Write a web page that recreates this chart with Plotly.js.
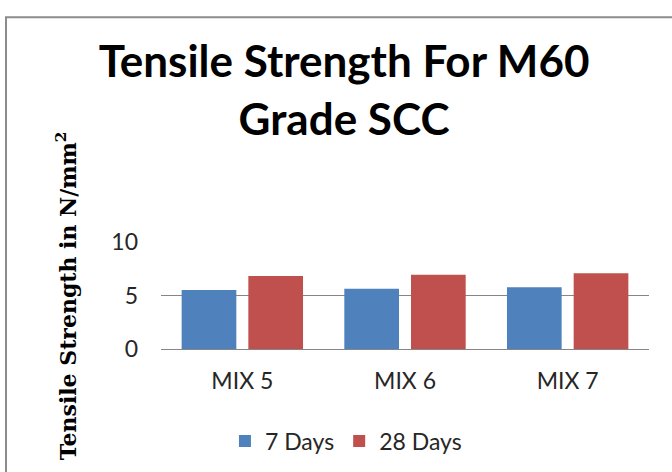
<!DOCTYPE html>
<html>
<head>
<meta charset="utf-8">
<script src="https://cdn.plot.ly/plotly-3.0.1.min.js"></script>
<style>
  html, body { margin: 0; padding: 0; background: #fff; }
  #chart { width: 672px; height: 472px; }
</style>
</head>
<body>
<div id="chart"></div>
<script>
var mixes = ['MIX 5', 'MIX 6', 'MIX 7'];
var days7 = [5.52, 5.63, 5.76];
var days28 = [6.82, 6.93, 7.07];
var yTicks = [0, 5, 10];

var trace1 = {
    x: mixes,
    y: days7,
    type: 'bar',
    name: '7 Days',
    marker: { color: '#4F81BD' },
    hoverinfo: 'y'
};

var trace2 = {
    x: mixes,
    y: days28,
    type: 'bar',
    name: '28 Days',
    marker: { color: '#C0504D' },
    hoverinfo: 'y'
};

var data = [trace1, trace2];

var layout = {
    width: 672,
    height: 472,
    margin: { l: 161, r: 23, t: 242, b: 122 },
    paper_bgcolor: '#ffffff',
    plot_bgcolor: '#ffffff',
    barmode: 'group',
    bargap: 0.18,
    bargroupgap: 0.18,
    title: {
        text: '<b>Tensile Strength For M60<br>Grade SCC</b>',
        font: { family: 'Lato, sans-serif', size: 44, color: '#000000' },
        x: 0.512,
        xanchor: 'center',
        y: 0.836,
        yanchor: 'top'
    },
    xaxis: {
        type: 'category',
        showgrid: false,
        zeroline: false,
        showline: false,
        ticks: '',
        ticklabelstandoff: 16,
        tickfont: { family: 'Lato, sans-serif', size: 23, color: '#262626' }
    },
    yaxis: {
        range: [0, 10],
        tickvals: yTicks,
        showgrid: true,
        gridcolor: '#868686',
        gridwidth: 1,
        zeroline: true,
        zerolinecolor: '#868686',
        zerolinewidth: 1,
        showline: false,
        ticks: '',
        ticklabelstandoff: 22,
        tickfont: { family: 'Lato, sans-serif', size: 23, color: '#262626' }
    },
    showlegend: true,
    legend: {
        orientation: 'h',
        x: 0.379,
        xanchor: 'center',
        y: -0.843,
        yanchor: 'middle',
        font: { family: 'Lato, sans-serif', size: 23, color: '#262626' },
        itemwidth: 30
    },
    annotations: [{
        text: '<b>Tensile Strength in N/mm<sup>2</sup></b>',
        xref: 'paper',
        yref: 'paper',
        x: -0.195,
        y: 0.5,
        xanchor: 'center',
        yanchor: 'middle',
        textangle: -90,
        showarrow: false,
        font: { family: 'DejaVu Serif, serif', size: 22, color: '#000000' }
    }],
    shapes: [{
        type: 'rect',
        xref: 'paper',
        yref: 'paper',
        x0: -0.3176,
        x1: 1.3,
        y0: -2.5,
        y1: 3.1,
        line: { color: '#8c8c8c', width: 2 },
        fillcolor: 'rgba(0,0,0,0)',
        layer: 'below'
    }]
};

Plotly.newPlot('chart', data, layout, { displayModeBar: false, staticPlot: true });
</script>
</body>
</html>
